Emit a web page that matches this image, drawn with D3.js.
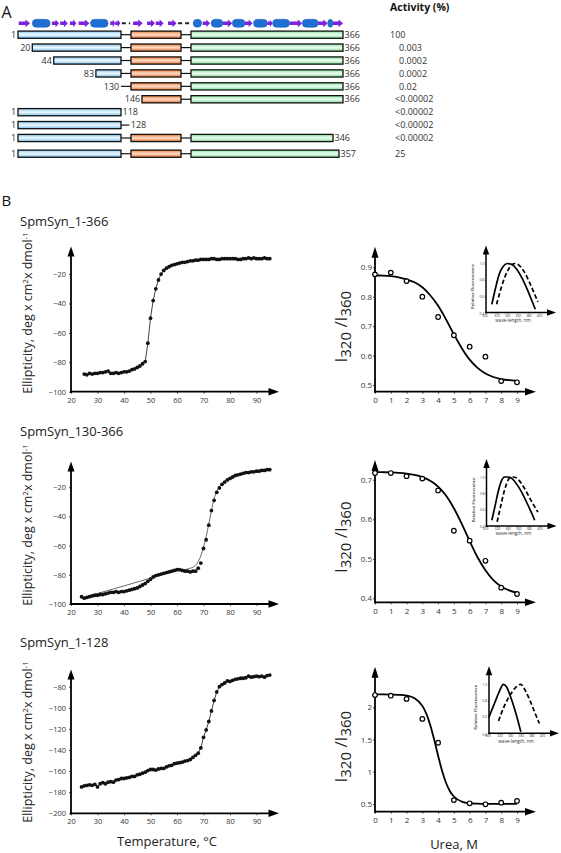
<!DOCTYPE html>
<html><head><meta charset="utf-8">
<script src="https://cdn.jsdelivr.net/npm/d3@7/dist/d3.min.js"></script>
<style>
body{margin:0;background:#fff}
svg{display:block}
text{font-family:'Open Sans','Noto Sans',sans-serif}
</style>
</head><body>
<svg id="chart" width="561" height="853"></svg>
<script>
// ================= DATA =================
// Panel A: domain architecture
const domainNames = ["blue", "orange", "green"];
const domainStart = [1, 130, 212];
const domainEnd = [118, 200, 366];
const constructStart = [1, 20, 44, 83, 130, 146, 1, 1, 1, 1];
const constructEnd = [366, 366, 366, 366, 366, 366, 118, 128, 346, 357];
const activityLabels = ["100", "0.003", "0.0002", "0.0002", "0.02", "<0.00002", "<0.00002", "<0.00002", "<0.00002", "25"];
// secondary structure: E = strand, H = helix, C = coil
const ssType = ["E","H","E","E","E","E","H","E","E","C","E","E","E","E","C","H","E","H","E","H","E","H","E","H","E","H","E","H","E"];
const ssStart = [2,20,42,50,59,67,78,103,110,119,133,153,165,182,196,214,223,231,242,251,263,271,284,289,305,317,332,341,346];
const ssEnd   = [17,40,49,57,65,77,100,110,117,129,147,164,176,194,211,222,230,242,251,263,270,284,289,305,317,332,341,346,366];

// Panel B: CD thermal melts
const cdTitles = ["SpmSyn_1-366", "SpmSyn_130-366", "SpmSyn_1-128"];
const cdXTicks = [20, 30, 40, 50, 60, 70, 80, 90];
const cdYTicks1 = [-100, -80, -60, -40, -20];
const cdYTicks2 = [-100, -80, -60, -40, -20];
const cdYTicks3 = [-200, -180, -160, -140, -120, -100, -80];

const cdT1 = [25,26,27,28,29,30,31,32,33,34,35,36,37,38,39,40,41,42,43,44,45,46,47,48,49,50,51,52,53,54,55,56,57,58,59,60,61,62,63,64,65,66,67,68,69,70,71,72,73,74,75,76,77,78,79,80,81,82,83,84,85,86,87,88,89,90,91,92,93,94,95];
const cdV1 = [-88,-88.5,-87.5,-88,-87.5,-87.5,-87,-87,-86.5,-86,-87.5,-87.5,-87,-87.5,-87,-86.5,-86.5,-86,-85,-84.5,-83.5,-82.5,-81,-79.5,-67,-50,-38,-30,-24,-20,-17.5,-16,-15,-14,-13.5,-13,-12.5,-12,-12,-11.5,-11,-11,-10.5,-10.5,-10,-10,-10,-10,-9.5,-9.5,-10,-10,-9.5,-9.5,-9.5,-9.5,-9.5,-9.5,-10,-10,-9.5,-9.5,-9,-9.5,-9,-9.5,-9.5,-9.5,-9,-9.5,-9.5];

const cdT2 = [24,25,26,27,28,29,30,31,32,33,34,35,36,37,38,39,40,41,42,43,44,45,46,47,48,49,50,51,52,53,54,55,56,57,58,59,60,61,62,63,64,65,66,67,68,69,70,71,72,73,74,75,76,77,78,79,80,81,82,83,84,85,86,87,88,89,90,91,92,93,94,95];
const cdV2 = [-95,-96,-95.5,-95,-94.5,-94,-94,-93.5,-93.5,-93,-92.5,-92,-92,-91.5,-92,-91.5,-91.5,-91,-90.5,-90,-89.5,-89,-88,-87,-86,-84.5,-83,-81.5,-80.5,-80,-79.5,-79,-78.5,-78,-77.5,-77,-76.5,-76.5,-77,-77.5,-77.5,-78,-77.5,-77.5,-75.5,-72,-62,-56,-46,-36,-29,-23.5,-20.5,-18,-16.5,-15,-14,-13,-12,-11.5,-11,-10.5,-10,-10,-9.5,-9.5,-9,-9,-8.5,-8.5,-8,-8];
const cdFitT2 = [24,30,40,50,60,65,67,68,69,70,71,72,73,74,75,76,78,80,85,90,95];
const cdFitV2 = [-96,-92.8,-87.6,-82.3,-77.2,-75.5,-73.5,-71,-67,-61,-54,-45,-36,-28,-23,-19.5,-16,-14,-11,-9,-8];

const cdT3 = [24,25,26,27,28,29,30,31,32,33,34,35,36,37,38,39,40,41,42,43,44,45,46,47,48,49,50,51,52,53,54,55,56,57,58,59,60,61,62,63,64,65,66,67,68,69,70,71,72,73,74,75,76,77,78,79,80,81,82,83,84,85,86,87,88,89,90,91,92,93,94,95];
const cdV3 = [-175,-174,-173.5,-173,-173.5,-172.5,-175,-172,-171,-172,-170.5,-170,-170.5,-168.5,-168,-167,-167,-166.5,-166,-165,-165,-163.5,-163,-162,-161,-159.5,-158.5,-158.5,-159,-158,-157.5,-157.5,-156,-155,-154.5,-153,-152.5,-152,-151.5,-150.5,-150,-149,-147,-145,-143,-138,-128,-121,-113,-103,-93,-85,-80,-78,-76.5,-74.5,-75,-74,-73,-72.5,-72,-72,-71.5,-70,-71,-70.5,-70,-70.5,-70,-71,-69.5,-69];

// Panel B: urea denaturation (I320/I360)
const ureaX = [0,1,2,3,4,5,6,7,8,9];
const ureaTicksX = [0,1,2,3,4,5,6,7,8,9];
const urea1 = [0.876,0.882,0.853,0.80,0.731,0.669,0.63,0.596,0.513,0.509];
const urea2 = [0.717,0.717,0.709,0.703,0.673,0.571,0.546,0.495,0.427,0.411];
const urea3 = [2.19,2.18,2.13,1.82,1.45,0.56,0.51,0.495,0.52,0.547];
const ureaYTicks1 = [0.5,0.6,0.7,0.8,0.9];
const ureaYTicks2 = [0.4,0.5,0.6,0.7];
const ureaYTicks3 = [0.5,1,1.5,2];
const fitX12 = [0,0.5,1,1.5,2,2.5,3,3.5,4,4.5,5,5.5,6,6.5,7,7.5,8,8.5,9];
const fit1 = [0.873,0.872,0.870,0.866,0.859,0.849,0.832,0.805,0.769,0.723,0.672,0.625,0.586,0.558,0.539,0.527,0.520,0.516,0.514];
const fit2 = [0.7195,0.7191,0.7185,0.7174,0.7154,0.7122,0.7066,0.6973,0.6825,0.660,0.628,0.5885,0.545,0.504,0.471,0.446,0.430,0.420,0.414];
const fitX3 = [0,0.5,1,1.5,2,2.5,3,3.25,3.5,3.75,4,4.25,4.5,4.75,5,5.5,6,6.5,7,8,9];
const fit3 = [2.2,2.1995,2.198,2.194,2.182,2.141,2.022,1.902,1.727,1.5,1.249,1.015,0.829,0.698,0.616,0.537,0.511,0.504,0.501,0.5,0.5];

// Insets: fluorescence spectra (solid = native, dashed = denatured)
const insetXTicks = [300,320,340,360,380,400];
const insetYTicks = [0.4,0.6,0.8,1.0];
const specSolidL1 = [311,318,325,332,340,348,358,368,378,388,393];
const specSolidV1 = [0.5,0.7,0.87,0.96,1.0,0.99,0.93,0.82,0.68,0.52,0.44];
const specDashL1 = [320,330,340,350,356,362,372,382,392,398];
const specDashV1 = [0.5,0.73,0.9,0.99,1.0,0.98,0.9,0.77,0.62,0.53];
const specSolidL2 = [310,316,322,328,334,340,346,355,365,375,385,391];
const specSolidV2 = [0.47,0.64,0.82,0.95,1.0,1.0,0.99,0.93,0.83,0.70,0.56,0.47];
const specDashL2 = [320,326,332,338,344,350,356,366,376,386,397];
const specDashV2 = [0.45,0.62,0.79,0.92,0.99,1.0,0.99,0.92,0.81,0.69,0.57];
const specSolidL3 = [300,310,320,327,333,340,350,360];
const specSolidV3 = [0.6,0.76,0.92,1.0,0.97,0.86,0.66,0.42];
const specDashL3 = [318,330,340,350,360,368,378,388,395];
const specDashV3 = [0.55,0.75,0.87,0.96,1.0,0.93,0.79,0.63,0.52];

// ================= DRAWING =================
const svg = d3.select('#chart');
const defs = svg.append('defs');
const gradColors = {blue:['#8cc8ef','#eef9ff','#7cbde9'], orange:['#ee7e3e','#fddcc6','#e97335'], green:['#8ee4a6','#ecfdf1','#82db9b']};
Object.keys(gradColors).forEach(k => {
  const c = gradColors[k];
  const lg = defs.append('linearGradient').attr('id','g-'+k).attr('x1',0).attr('y1',0).attr('x2',0).attr('y2',1);
  lg.append('stop').attr('offset','0%').attr('stop-color',c[0]);
  lg.append('stop').attr('offset','50%').attr('stop-color',c[1]);
  lg.append('stop').attr('offset','100%').attr('stop-color',c[2]);
});

// ---------- Panel A ----------
svg.append('text').attr('x',1.5).attr('y',17.5).attr('font-size',16).attr('fill','#111').text('A');
svg.append('text').attr('x',390).attr('y',11).attr('font-size',10.5).attr('font-weight','bold').attr('fill','#111').text('Activity (%)');

const resX = d3.scaleLinear()
  .domain([1,20,44,83,118,130,146,200,212,346,357,366])
  .range([18,32.3,53.7,95.9,121,131,142,181,191,333,339,343]);
const rowY = d3.scaleLinear().domain([0,8,9]).range([34.7,138,153.7]);

// secondary structure row
const ssG = svg.append('g');
const ssY = 23.3;
ssType.forEach((t,i) => {
  const x1 = resX(ssStart[i]), x2 = resX(ssEnd[i]);
  if (t === 'E') {
    const hl = Math.min(4.5, (x2-x1)*0.5);
    ssG.append('path')
      .attr('d', `M${x1},${ssY-1.7}L${x2-hl},${ssY-1.7}L${x2-hl},${ssY-3.9}L${x2},${ssY}L${x2-hl},${ssY+3.9}L${x2-hl},${ssY+1.7}L${x1},${ssY+1.7}Z`)
      .attr('fill','#7b22de');
  } else if (t === 'H') {
    ssG.append('rect').attr('x',x1).attr('y',ssY-4).attr('width',x2-x1).attr('height',8)
      .attr('rx',4).attr('ry',4).attr('fill','#1f6fd2').attr('stroke','#1a5fb8').attr('stroke-width',0.5);
  } else {
    ssG.append('line').attr('x1',x1).attr('x2',x2).attr('y1',ssY).attr('y2',ssY)
      .attr('stroke','#222').attr('stroke-width',2).attr('stroke-dasharray','4,3');
  }
});

// construct rows
const rowsG = svg.append('g');
constructStart.forEach((s,i) => {
  const e = constructEnd[i];
  const cy = rowY(i);
  const parts = [];
  domainNames.forEach((name,d) => {
    if (d > 0) {
      const la = domainEnd[d-1], lb = domainStart[d];
      if (s <= lb && e > la) parts.push({type:'line', a:la, b:Math.min(e,lb)});
    }
    if (s < domainEnd[d] && e > domainStart[d]) {
      parts.push({type:'box', c:name, a:Math.max(s,domainStart[d]), b:Math.min(e,domainEnd[d])});
    }
  });
  parts.filter(p => p.type==='line').forEach(p => {
    rowsG.append('line').attr('x1',resX(p.a)).attr('x2',resX(p.b)).attr('y1',cy).attr('y2',cy)
      .attr('stroke','#111').attr('stroke-width',1.2);
  });
  parts.filter(p => p.type==='box').forEach(p => {
    rowsG.append('rect').attr('x',resX(p.a)).attr('y',cy-3.6).attr('width',resX(p.b)-resX(p.a)).attr('height',7.2)
      .attr('fill',`url(#g-${p.c})`).attr('stroke','#111').attr('stroke-width',1.3);
  });
  const left = resX(parts[0].a), right = resX(parts[parts.length-1].b);
  rowsG.append('text').attr('x',left-1.8).attr('y',cy+3.2).attr('text-anchor','end')
    .attr('font-size',9).attr('fill','#333').text(s);
  rowsG.append('text').attr('x',right+1.5).attr('y',cy+3.2)
    .attr('font-size',9).attr('fill','#333').text(e);
  const lab = activityLabels[i];
  const ax = lab.startsWith('<') ? 395 : lab.startsWith('0') ? 399 : (lab.length === 3 ? 390 : 395);
  rowsG.append('text').attr('x',ax).attr('y',cy+3.2).attr('font-size',9).attr('fill','#333').text(lab);
});

// ---------- Panel B ----------
svg.append('text').attr('x',1.5).attr('y',206).attr('font-size',15).attr('fill','#111').text('B');

function arrowUp(g, x, tip, w, h) {
  g.append('path').attr('d',`M${x},${tip}L${x-w/2},${tip+h}L${x+w/2},${tip+h}Z`).attr('fill','#000');
}
function arrowRight(g, y, tip, w, h) {
  g.append('path').attr('d',`M${tip},${y}L${tip-h},${y-w/2}L${tip-h},${y+w/2}Z`).attr('fill','#000');
}
function styleAxis(ag, fs) {
  ag.select('.domain').remove();
  ag.selectAll('.tick line').attr('stroke','#222').attr('stroke-width',0.8);
  ag.selectAll('.tick text').attr('font-size',fs).attr('fill','#333')
    .style('font-family',"'Open Sans','Noto Sans',sans-serif");
}

const cdPanels = [
  {t:cdT1, v:cdV1, connect:true, yDom:[-100,0], yRange:[391.7,244.7], tip:246.5, ticks:cdYTicks1, title:cdTitles[0], titleY:226, labY:313},
  {t:cdT2, v:cdV2, fitT:cdFitT2, fitV:cdFitV2, connect:false, yDom:[-100,0], yRange:[604,458], tip:461.5, ticks:cdYTicks2, title:cdTitles[1], titleY:436, labY:525},
  {t:cdT3, v:cdV3, connect:true, yDom:[-200,-60], yRange:[813.3,665.6], tip:669.5, ticks:cdYTicks3, title:cdTitles[2], titleY:647, labY:742}
];
const cdX = d3.scaleLinear().domain([20,90]).range([71,256.5]);
const cdXTip = 279;

cdPanels.forEach(p => {
  const g = svg.append('g');
  const y = d3.scaleLinear().domain(p.yDom).range(p.yRange);
  const bottom = p.yRange[0], ax0 = cdX(20);
  g.append('text').attr('x',20).attr('y',p.titleY).attr('font-size',13).attr('fill','#222').text(p.title);
  const lab = g.append('text').attr('transform',`translate(32,${p.labY}) rotate(-90)`)
    .attr('text-anchor','middle').attr('font-size',12.5).attr('fill','#222');
  lab.append('tspan').text('Ellipticity, deg x cm');
  lab.append('tspan').attr('font-size',8).attr('dy',-4.5).text('2');
  lab.append('tspan').attr('dy',4.5).text('x dmol');
  lab.append('tspan').attr('font-size',8).attr('dy',-4.5).text('-1');

  const ya = g.append('g').attr('transform',`translate(${ax0},0)`)
    .call(d3.axisLeft(y).tickValues(p.ticks).tickSize(2).tickPadding(3).tickFormat(d3.format('d')));
  styleAxis(ya, 7.5);
  const xa = g.append('g').attr('transform',`translate(0,${bottom})`)
    .call(d3.axisBottom(cdX).tickValues(cdXTicks).tickSize(2).tickPadding(3.5).tickFormat(d3.format('d')));
  styleAxis(xa, 7.5);

  g.append('line').attr('x1',ax0).attr('x2',ax0).attr('y1',bottom+1).attr('y2',p.tip+8)
    .attr('stroke','#000').attr('stroke-width',1.8);
  g.append('line').attr('x1',ax0-1).attr('x2',cdXTip-8).attr('y1',bottom).attr('y2',bottom)
    .attr('stroke','#000').attr('stroke-width',1.8);
  arrowUp(g, ax0, p.tip, 7, 10);
  arrowRight(g, bottom, cdXTip, 7.5, 10.5);

  const pts = p.t.map((t,i) => [t, p.v[i]]);
  if (p.fitT) {
    const fitPts = p.fitT.map((t,i) => [t, p.fitV[i]]);
    g.append('path').datum(fitPts)
      .attr('d', d3.line().x(d=>cdX(d[0])).y(d=>y(d[1])).curve(d3.curveMonotoneX))
      .attr('fill','none').attr('stroke','#444').attr('stroke-width',0.8);
  }
  if (p.connect) {
    g.append('path').datum(pts)
      .attr('d', d3.line().x(d=>cdX(d[0])).y(d=>y(d[1])))
      .attr('fill','none').attr('stroke','#111').attr('stroke-width',0.8);
  }
  g.selectAll('circle.cd').data(pts).join('circle').attr('class','cd')
    .attr('cx',d=>cdX(d[0])).attr('cy',d=>y(d[1])).attr('r',1.9).attr('fill','#111');
});

svg.append('text').attr('x',167).attr('y',846).attr('text-anchor','middle').attr('font-size',13).attr('fill','#222').text('Temperature, °C');
svg.append('text').attr('x',454).attr('y',849).attr('text-anchor','middle').attr('font-size',13).attr('fill','#222').text('Urea, M');

// urea panels
const ureaPanels = [
  {v:urea1, fx:fitX12, fv:fit1, yDom:[0.477,0.97], yRange:[391.7,246.7], ticks:ureaYTicks1, fmt:'.1f',
   inset:{ax:486, bottom:312.5, sL:specSolidL1, sV:specSolidV1, dL:specDashL1, dV:specDashV1}},
  {v:urea2, fx:fitX12, fv:fit2, yDom:[0.39,0.75], yRange:[602.3,460], ticks:ureaYTicks2, fmt:'.1f',
   inset:{ax:486.5, bottom:526, sL:specSolidL2, sV:specSolidV2, dL:specDashL2, dV:specDashV2}},
  {v:urea3, fx:fitX3, fv:fit3, yDom:[0.38,2.63], yRange:[811.7,666.7], ticks:ureaYTicks3, fmt:null,
   inset:{ax:489, bottom:733.3, sL:specSolidL3, sV:specSolidV3, dL:specDashL3, dV:specDashV3}}
];
const uX = d3.scaleLinear().domain([0,9]).range([375,517]);
const uXTip = 536;

ureaPanels.forEach(p => {
  const g = svg.append('g');
  const y = d3.scaleLinear().domain(p.yDom).range(p.yRange);
  const bottom = p.yRange[0], top = p.yRange[1], ax0 = uX(0);

  const lab = g.append('text').attr('transform',`translate(347,${bottom-65}) rotate(-90)`)
    .attr('text-anchor','middle').attr('font-size',17).attr('fill','#222');
  lab.append('tspan').text('I');
  lab.append('tspan').attr('font-size',15).attr('dy',4).text('320');
  lab.append('tspan').attr('dy',-4).text(' /I');
  lab.append('tspan').attr('font-size',15).attr('dy',4).text('360');

  const ya = g.append('g').attr('transform',`translate(${ax0},0)`)
    .call(d3.axisLeft(y).tickValues(p.ticks).tickSize(2).tickPadding(1)
      .tickFormat(p.fmt ? d3.format(p.fmt) : d3.format('')));
  styleAxis(ya, 8);
  const xa = g.append('g').attr('transform',`translate(0,${bottom})`)
    .call(d3.axisBottom(uX).tickValues(ureaTicksX).tickSize(2).tickPadding(4).tickFormat(d3.format('d')));
  styleAxis(xa, 8);

  g.append('line').attr('x1',ax0).attr('x2',ax0).attr('y1',bottom+1).attr('y2',top+8)
    .attr('stroke','#000').attr('stroke-width',1.8);
  g.append('line').attr('x1',ax0-1).attr('x2',uXTip-8).attr('y1',bottom).attr('y2',bottom)
    .attr('stroke','#000').attr('stroke-width',1.8);
  arrowUp(g, ax0, top, 7, 11);
  arrowRight(g, bottom, uXTip, 7.5, 11);

  const fitPts = p.fx.map((x,i) => [x, p.fv[i]]);
  g.append('path').datum(fitPts)
    .attr('d', d3.line().x(d=>uX(d[0])).y(d=>y(d[1])).curve(d3.curveMonotoneX))
    .attr('fill','none').attr('stroke','#000').attr('stroke-width',1.8);
  g.selectAll('circle.u').data(ureaX.map((x,i)=>[x,p.v[i]])).join('circle').attr('class','u')
    .attr('cx',d=>uX(d[0])).attr('cy',d=>y(d[1])).attr('r',2.3)
    .attr('fill','#fff').attr('stroke','#000').attr('stroke-width',1.2);

  // inset
  const ins = p.inset;
  const ig = svg.append('g');
  const ix = d3.scaleLinear().domain([300,400]).range([ins.ax, ins.ax+53]);
  const iy = d3.scaleLinear().domain([0.4,1.0]).range([ins.bottom, ins.bottom-49]);
  const iTop = ins.bottom-67, iRight = ins.ax+70;
  const iya = ig.append('g').attr('transform',`translate(${ins.ax},0)`)
    .call(d3.axisLeft(iy).tickValues(insetYTicks).tickSize(1).tickPadding(1).tickFormat(d3.format('.1f')));
  styleAxis(iya, 3.2);
  iya.selectAll('.tick text').attr('dy','0.6em').filter(d => d !== 0.4).attr('dy','0.32em');
  const ixa = ig.append('g').attr('transform',`translate(0,${ins.bottom})`)
    .call(d3.axisBottom(ix).tickValues(insetXTicks).tickSize(1).tickPadding(0.8).tickFormat(d3.format('d')));
  styleAxis(ixa, 3.2);
  ixa.selectAll('.tick text').filter(d => d === 300).attr('dx','-1.5');
  ig.append('line').attr('x1',ins.ax).attr('x2',ins.ax).attr('y1',ins.bottom+0.7).attr('y2',iTop+7)
    .attr('stroke','#000').attr('stroke-width',1.5);
  ig.append('line').attr('x1',ins.ax-0.7).attr('x2',iRight-7).attr('y1',ins.bottom).attr('y2',ins.bottom)
    .attr('stroke','#000').attr('stroke-width',1.5);
  arrowUp(ig, ins.ax, iTop, 6.5, 9);
  arrowRight(ig, ins.bottom, iRight, 6.5, 9);
  ig.append('text').attr('x',ins.ax+27).attr('y',ins.bottom+9.3).attr('text-anchor','middle')
    .attr('font-size',4.6).attr('fill','#333').text('wave-length, nm');
  ig.append('text').attr('transform',`translate(${ins.ax-12},${ins.bottom-26}) rotate(-90)`)
    .attr('text-anchor','middle').attr('font-size',4.3).attr('font-weight',600).attr('fill','#333').text('Relative Fluorescence');
  const sl = d3.line().x(d=>ix(d[0])).y(d=>iy(d[1])).curve(d3.curveMonotoneX);
  ig.append('path').datum(ins.sL.map((l,i)=>[l,ins.sV[i]])).attr('d',sl)
    .attr('fill','none').attr('stroke','#000').attr('stroke-width',1.7);
  ig.append('path').datum(ins.dL.map((l,i)=>[l,ins.dV[i]])).attr('d',sl)
    .attr('fill','none').attr('stroke','#000').attr('stroke-width',1.7).attr('stroke-dasharray','4.5,2.5');
});
</script>
</body></html>
